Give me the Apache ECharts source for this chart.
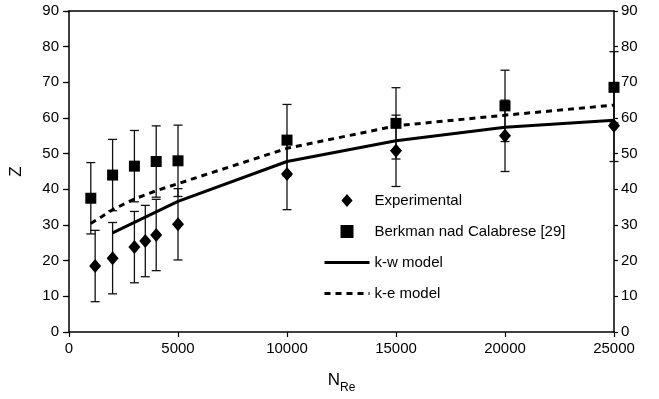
<!DOCTYPE html>
<html>
<head>
<meta charset="utf-8">
<script src="https://cdn.jsdelivr.net/npm/echarts@6/dist/echarts.min.js"></script>
<style>html,body{margin:0;padding:0;background:#fff;}#c{width:659px;height:399px;}</style>
</head>
<body>
<div id="c"></div>
<script>
// ---- data ----
var expX = [1200, 2000, 3000, 3500, 4000, 5000, 10000, 15000, 20000, 25000];
var expY = [18.5, 20.7, 23.8, 25.5, 27.2, 30.2, 44.3, 50.8, 55.0, 57.8];
var expErr = [10, 10, 10, 10, 10, 10, 10, 10, 10, 10];

var berkX = [1000, 2000, 3000, 4000, 5000, 10000, 15000, 20000, 25000];
var berkY = [37.5, 44.0, 46.5, 47.8, 48.0, 53.8, 58.5, 63.4, 68.6];
var berkErr = [10, 10, 10, 10, 10, 10, 10, 10, 10];

var kwX = [2000, 5000, 10000, 15000, 20000, 25000];
var kwY = [27.8, 36.6, 47.8, 53.6, 57.4, 59.4];

var keX = [1000, 2000, 3000, 4000, 5000, 10000, 15000, 20000, 25000];
var keY = [30.4, 34.3, 37.3, 39.6, 41.6, 51.5, 57.8, 60.8, 63.6];

var xTicks = {min: 0, max: 25000, interval: 5000};
var yTicks = {min: 0, max: 90, interval: 10};

var seriesNames = ['Experimental', 'Berkman nad Calabrese [29]', 'k-w model', 'k-e model'];

// ---- build ----
function zip(xs, ys) { return xs.map(function (x, i) { return [x, ys[i]]; }); }
function zip3(xs, ys, es) { return xs.map(function (x, i) { return [x, ys[i], es[i]]; }); }

var FONT = 'Liberation Sans';
var axisLineStyle = {color: '#000', width: 1.5};
var DIAMOND_ICON = 'path://M6,0L12,7L6,14L0,7Z';
var SQUARE_ICON = 'path://M0,0L10,0L10,10L0,10Z';

function errRender(params, api) {
  var x = api.value(0), y = api.value(1), e = api.value(2);
  var top = api.coord([x, y + e]);
  var bot = api.coord([x, y - e]);
  var hw = 4.5;
  var st = {stroke: '#111', lineWidth: 1.3};
  return {
    type: 'group',
    children: [
      {type: 'line', shape: {x1: top[0], y1: top[1], x2: bot[0], y2: bot[1]}, style: st},
      {type: 'line', shape: {x1: top[0] - hw, y1: top[1], x2: top[0] + hw, y2: top[1]}, style: st},
      {type: 'line', shape: {x1: bot[0] - hw, y1: bot[1], x2: bot[0] + hw, y2: bot[1]}, style: st}
    ]
  };
}

var chart = echarts.init(document.getElementById('c'), null, {renderer: 'canvas'});
chart.setOption({
  animation: false,
  backgroundColor: '#fff',
  textStyle: {fontFamily: FONT, color: '#000'},
  grid: {left: 67, right: 45, top: 11, bottom: 67, containLabel: false},
  legend: {
    orient: 'vertical',
    left: 323,
    top: 193,
    padding: 0,
    itemWidth: 45,
    itemHeight: 13,
    itemGap: 16,
    symbolKeepAspect: true,
    selectedMode: false,
    lineStyle: {width: 'inherit'},
    data: [
      {name: seriesNames[0], icon: DIAMOND_ICON},
      {name: seriesNames[1], icon: SQUARE_ICON},
      {name: seriesNames[2], itemStyle: {opacity: 0}},
      {name: seriesNames[3], itemStyle: {opacity: 0}}
    ],
    textStyle: {fontFamily: FONT, fontSize: 15, color: '#000'}
  },
  xAxis: [{
    type: 'value',
    min: xTicks.min, max: xTicks.max, interval: xTicks.interval,
    name: '{n|N}{s|Re}',
    nameLocation: 'middle',
    nameGap: 40,
    nameTextStyle: {
      rich: {
        n: {fontFamily: FONT, fontSize: 17, color: '#000', verticalAlign: 'top', lineHeight: 20},
        s: {fontFamily: FONT, fontSize: 12, color: '#000', verticalAlign: 'top', lineHeight: 20, padding: [10, 0, 0, 0]}
      }
    },
    axisLine: {show: true, onZero: false, lineStyle: axisLineStyle},
    axisTick: {show: true, length: 5, inside: false, lineStyle: {color: '#000', width: 1.2}},
    axisLabel: {fontFamily: FONT, fontSize: 15, color: '#000', margin: 9,
      formatter: function (v) { return String(v); }},
    splitLine: {show: false}
  }, {
    type: 'value', position: 'top',
    min: xTicks.min, max: xTicks.max, interval: xTicks.interval,
    axisLine: {show: true, onZero: false, lineStyle: axisLineStyle},
    axisTick: {show: false}, axisLabel: {show: false}, splitLine: {show: false}
  }],
  yAxis: [{
    type: 'value', position: 'left',
    min: yTicks.min, max: yTicks.max, interval: yTicks.interval,
    name: 'Z', nameLocation: 'middle', nameGap: 44, nameRotate: 90,
    nameTextStyle: {fontFamily: FONT, fontSize: 17, color: '#000'},
    axisLine: {show: true, onZero: false, lineStyle: axisLineStyle},
    axisTick: {show: true, length: 6, lineStyle: {color: '#000', width: 1.2}},
    axisLabel: {fontFamily: FONT, fontSize: 15, color: '#000', margin: 10},
    splitLine: {show: false}
  }, {
    type: 'value', position: 'right',
    min: yTicks.min, max: yTicks.max, interval: yTicks.interval,
    axisLine: {show: true, onZero: false, lineStyle: axisLineStyle},
    axisTick: {show: true, length: 4, lineStyle: {color: '#000', width: 1.2}},
    axisLabel: {fontFamily: FONT, fontSize: 15, color: '#000', margin: 7},
    splitLine: {show: false}
  }, {
    type: 'value', position: 'right',
    min: yTicks.min, max: yTicks.max, interval: yTicks.interval,
    axisLine: {show: false},
    axisTick: {show: true, inside: true, length: 4, lineStyle: {color: '#000', width: 1.2}},
    axisLabel: {show: false},
    splitLine: {show: false}
  }],
  series: [
    {
      name: 'errExp', type: 'custom', renderItem: errRender,
      data: zip3(expX, expY, expErr), encode: {x: 0, y: 1}, z: 1, silent: true
    },
    {
      name: 'errBerk', type: 'custom', renderItem: errRender,
      data: zip3(berkX, berkY, berkErr), encode: {x: 0, y: 1}, z: 1, silent: true
    },
    {
      name: seriesNames[2], type: 'line', data: zip(kwX, kwY),
      showSymbol: false, symbol: 'none', smooth: false, z: 2,
      lineStyle: {color: '#000', width: 3, type: 'solid'},
      itemStyle: {color: '#000'}
    },
    {
      name: seriesNames[3], type: 'line', data: zip(keX, keY),
      showSymbol: false, symbol: 'none', smooth: false, z: 2,
      lineStyle: {color: '#000', width: 3, type: [6, 5]},
      itemStyle: {color: '#000'}
    },
    {
      name: seriesNames[0], type: 'scatter', data: zip(expX, expY),
      symbol: 'diamond', symbolSize: [12, 14], z: 3,
      itemStyle: {color: '#000', opacity: 1}
    },
    {
      name: seriesNames[1], type: 'scatter', data: zip(berkX, berkY),
      symbol: 'rect', symbolSize: 11, z: 3,
      itemStyle: {color: '#000', opacity: 1}
    }
  ]
});
</script>
</body>
</html>
